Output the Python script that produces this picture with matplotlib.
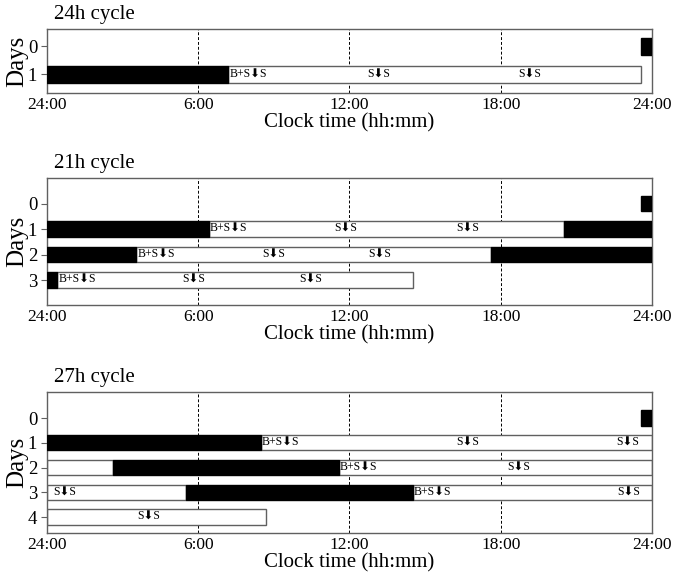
import numpy as np
import matplotlib
matplotlib.use("Agg")
import matplotlib.pyplot as plt

plt.rcParams['font.family'] = ['Liberation Serif', 'DejaVu Sans']

# panel titles and day rows
cycle_titles = ['24h cycle', '21h cycle', '27h cycle']
cycle_days = [[0, 1], [0, 1, 2, 3], [0, 1, 2, 3, 4]]

# sleep episodes (day, start hour, end hour)
sleep_24 = [(0, 23.55, 24), (1, 0, 7.2)]
sleep_21 = [(0, 23.55, 24), (1, 0, 6.42), (1, 20.5, 24), (2, 0, 3.54),
            (2, 17.6, 24), (3, 0, 0.4)]
sleep_27 = [(0, 23.55, 24), (1, 0, 8.47), (2, 2.63, 11.57), (3, 5.52, 14.5)]

# wake episodes (day, start hour, end hour)
wake_24 = [(1, 7.2, 23.55)]
wake_21 = [(1, 6.42, 20.5), (2, 3.54, 17.6), (3, 0.4, 14.5)]
wake_27 = [(1, 8.47, 24), (2, 0, 2.63), (2, 11.57, 24), (3, 0, 5.52),
           (3, 14.5, 24), (4, 0, 8.7)]

# meal / sample events (day, hour, label)
events_24 = [(1, 7.2, 'B+S⬇S'), (1, 12.65, 'S⬇S'), (1, 18.66, 'S⬇S')]
events_21 = [(1, 6.42, 'B+S⬇S'), (1, 11.36, 'S⬇S'), (1, 16.18, 'S⬇S'),
             (2, 3.54, 'B+S⬇S'), (2, 8.5, 'S⬇S'), (2, 12.7, 'S⬇S'),
             (3, 0.4, 'B+S⬇S'), (3, 5.33, 'S⬇S'), (3, 9.97, 'S⬇S')]
events_27 = [(1, 8.47, 'B+S⬇S'), (1, 16.18, 'S⬇S'), (1, 22.53, 'S⬇S'),
             (2, 11.57, 'B+S⬇S'), (2, 18.22, 'S⬇S'),
             (3, 0.2, 'S⬇S'), (3, 14.5, 'B+S⬇S'), (3, 22.57, 'S⬇S'),
             (4, 3.54, 'S⬇S')]

x_ticks = [0, 6, 12, 18, 24]
x_tick_labels = ['24:00', '6:00', '12:00', '18:00', '24:00']

sleeps = [sleep_24, sleep_21, sleep_27]
wakes = [wake_24, wake_21, wake_27]
events = [events_24, events_21, events_27]

fig = plt.figure(figsize=(6.83, 5.83), dpi=100)

# axes rectangles (left, bottom, width, height) and y limits
rects = [[0.0688, 0.841, 0.8858, 0.1088],
         [0.0688, 0.4768, 0.8858, 0.2178],
         [0.0688, 0.0858, 0.8858, 0.2418]]
ylims = [(1.66, -0.61), (3.98, -1.0), (4.64, -1.05)]
bar_h = 0.62
edge = '#606060'

for i in range(3):
    ax = fig.add_axes(rects[i])

    # dashed guide lines behind bars
    for h in x_ticks[1:-1]:
        ax.axvline(h, color='black', ls=(0, (3, 2)), lw=0.7, zorder=1)

    for day, start, end in wakes[i]:
        ax.barh(day, end - start, left=start, height=bar_h, color='white',
                edgecolor=edge, linewidth=1.0, zorder=2)
    for day, start, end in sleeps[i]:
        ax.barh(day, end - start, left=start, height=bar_h, color='black',
                edgecolor='black', linewidth=1.0, zorder=3)
    for day, hour, label in events[i]:
        ax.text(hour + 0.05, day, label, fontsize=8.5, ha='left',
                va='center', zorder=4)

    ax.set_xlim(0, 24)
    ax.set_ylim(*ylims[i])
    ax.set_xticks(x_ticks)
    ax.set_xticklabels(x_tick_labels, fontsize=12.5)
    ax.set_yticks(cycle_days[i])
    ax.set_yticklabels([str(d) for d in cycle_days[i]], fontsize=13.5)
    ax.tick_params(axis='x', length=0, pad=3)
    ax.tick_params(axis='y', length=4, pad=3, color=edge)
    for s in ax.spines.values():
        s.set_color(edge)
        s.set_linewidth(1.0)

    ax.set_xlabel('Clock time (hh:mm)', fontsize=15, labelpad=0)
    ax.set_ylabel('Days', fontsize=18, labelpad=0)
    ax.annotate(cycle_titles[i], xy=(0, 1), xycoords='axes fraction',
                xytext=(7, 15), textcoords='offset pixels',
                ha='left', va='center', fontsize=15)

fig.savefig('out.png', dpi=100)
